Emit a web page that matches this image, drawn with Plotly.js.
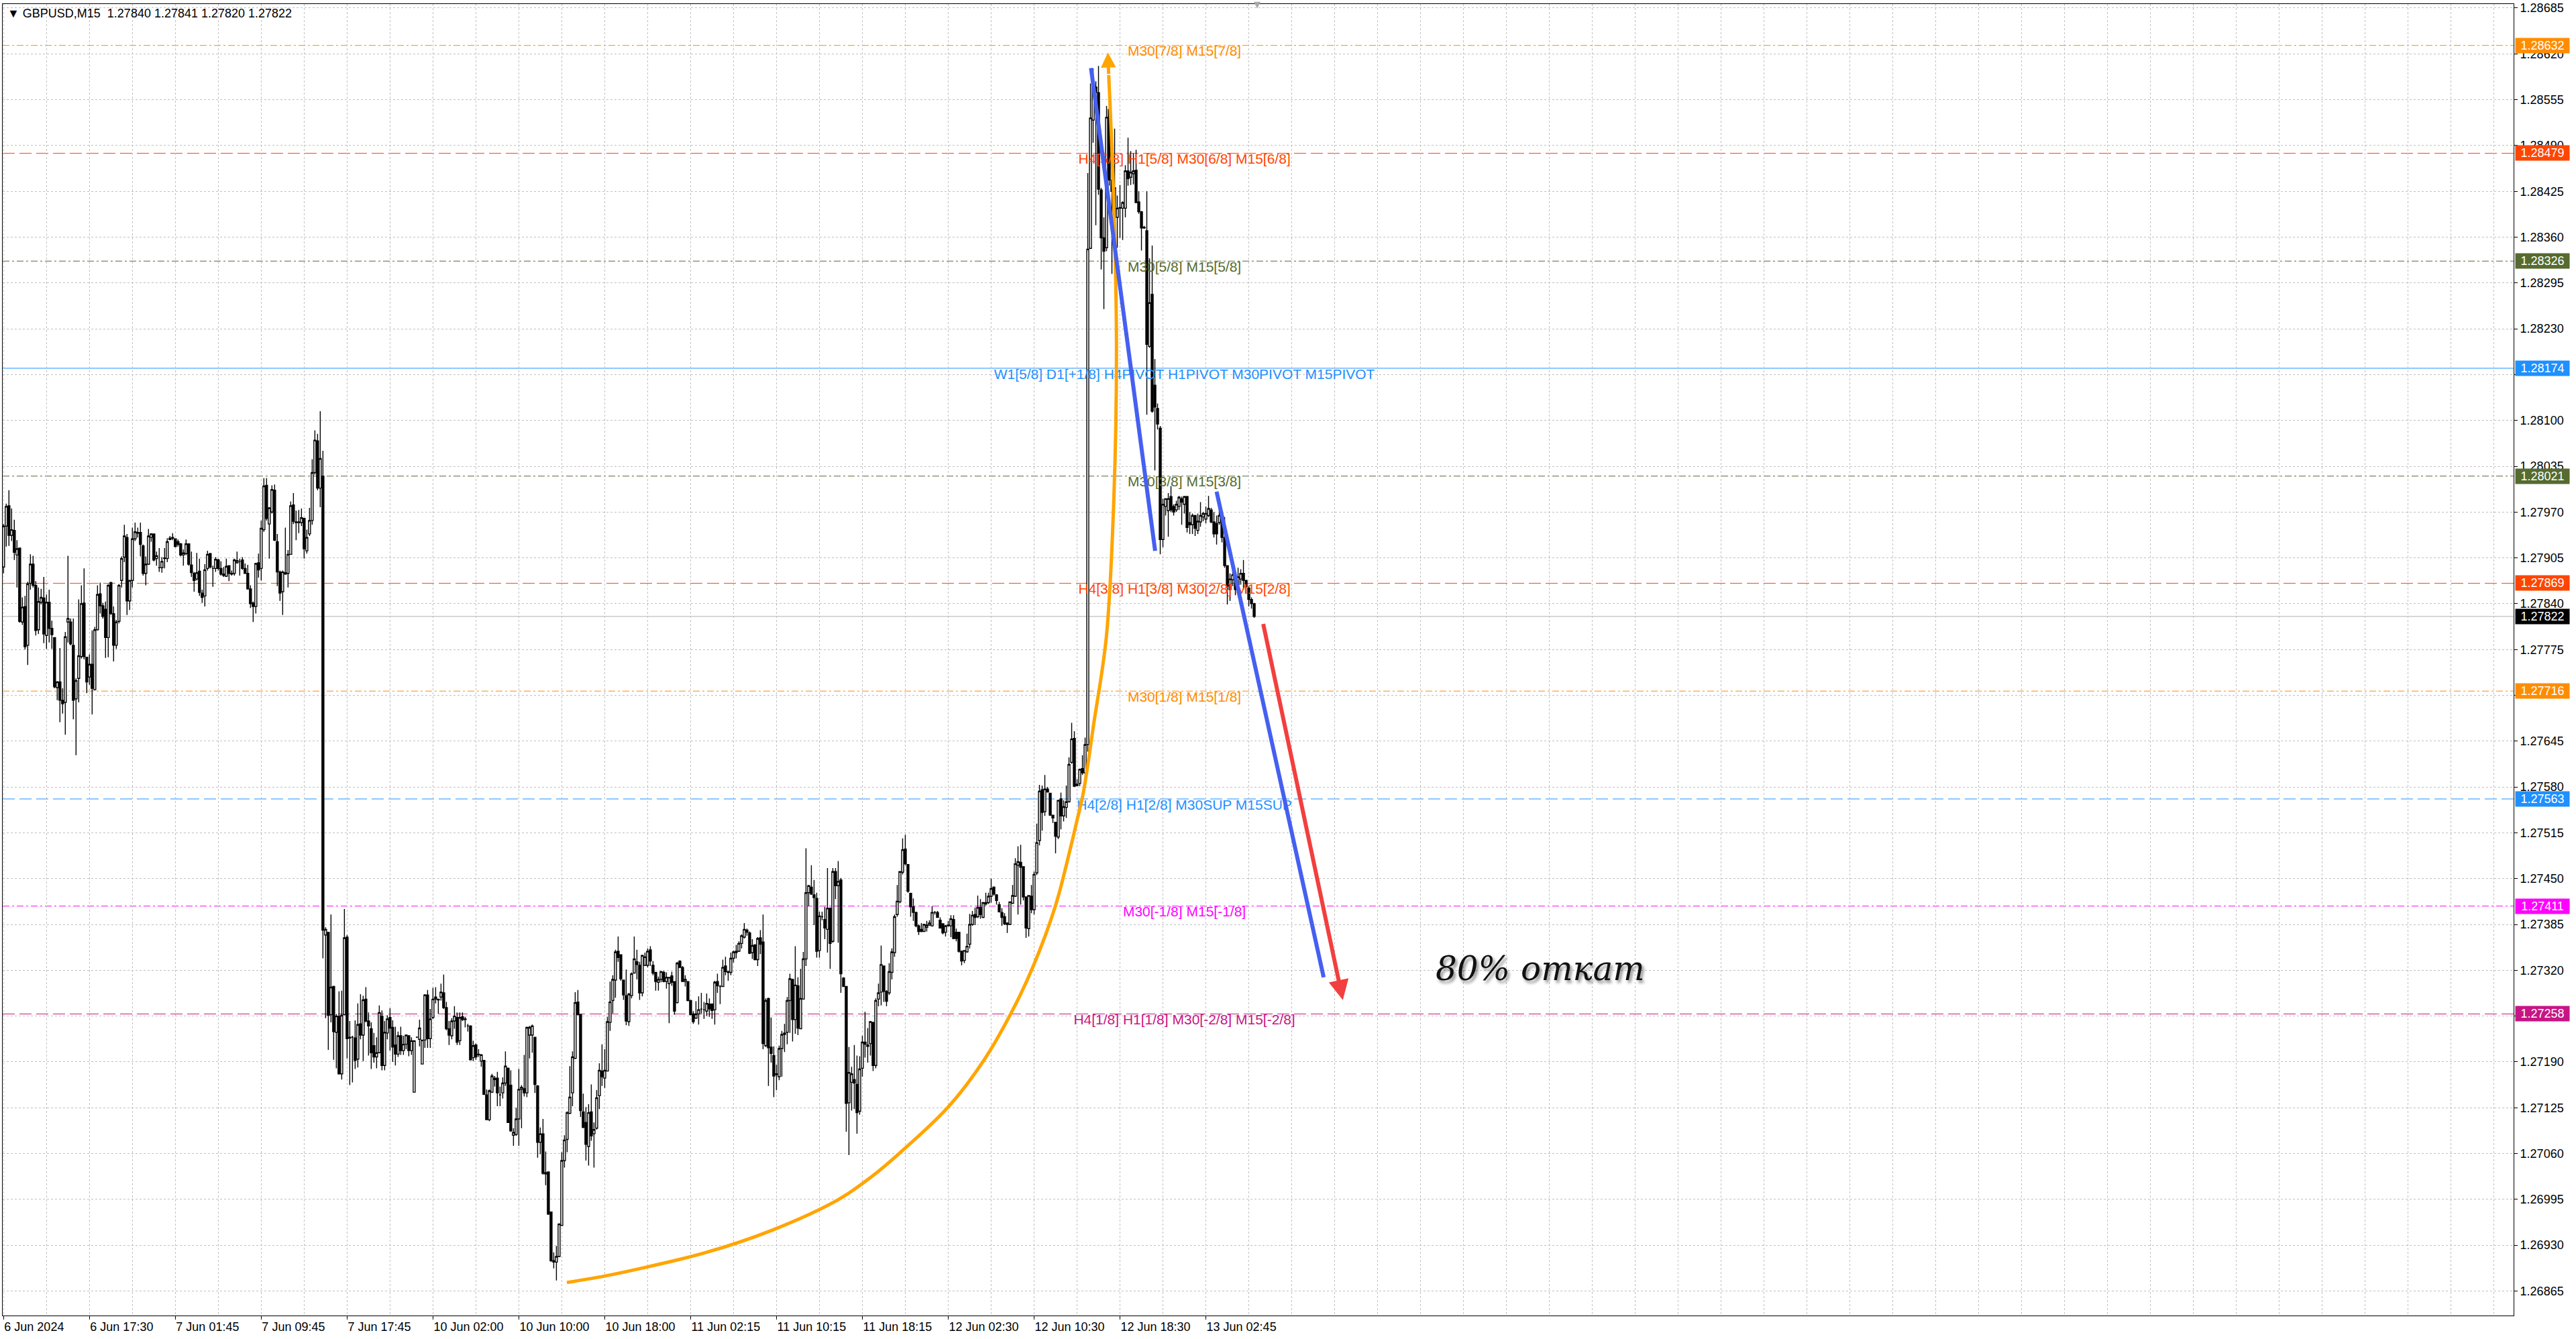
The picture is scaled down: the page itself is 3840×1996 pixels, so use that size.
<!DOCTYPE html>
<html>
<head>
<meta charset="utf-8">
<script src="https://cdn.plot.ly/plotly-3.0.1.min.js"></script>
<style>
  html, body { margin: 0; padding: 0; background: #fff; }
  #chart { width: 3840px; height: 1996px; }
</style>
</head>
<body>
<div id="chart"></div>
<script>
// GBPUSD M15, prices in points (x 1e-5), one entry per bar
const open = [
127892,127950,127979,127937,127944,127909,127919,127814,127836,127781,
127869,127896,127866,127803,127842,127848,127795,127842,127805,127792,
127721,127729,127703,127700,127814,127814,127781,127705,127734,127765,
127841,127764,127736,127754,127718,127803,127854,127837,127832,127792,
127870,127826,127781,127815,127873,127906,127934,127844,127873,127932,
127940,127941,127922,127883,127896,127934,127939,127904,127891,127891,
127904,127904,127931,127934,127932,127928,127925,127909,127911,127925,
127895,127883,127875,127886,127855,127851,127890,127911,127890,127890,
127902,127890,127882,127879,127894,127883,127883,127898,127900,127902,
127890,127883,127861,127841,127836,127898,127890,127945,128008,127953,
127970,128001,127928,127885,127857,127884,127883,127910,127980,127956,
127955,127955,127961,127915,127939,127958,128026,128071,128004,128021,
127370,127374,127257,127297,127232,127255,127173,127257,127367,127225,
127225,127224,127194,127244,127228,127279,127248,127237,127213,127197,
127203,127255,127185,127231,127253,127239,127214,127201,127227,127206,
127215,127227,127206,127147,127225,127222,127187,127221,127285,127223,
127253,127282,127279,127282,127288,127267,127237,127227,127248,127253,
127220,127254,127251,127241,127241,127196,127214,127201,127191,127192,
127143,127108,127147,127165,127167,127143,127146,127160,127181,127157,
127086,127087,127109,127151,127152,127146,127228,127228,127225,127156,
127076,127088,127033,127034,126977,126908,126906,126914,126958,127050,
127080,127117,127146,127195,127275,127257,127119,127104,127070,127119,
127088,127096,127142,127177,127167,127177,127246,127277,127306,127347,
127342,127306,127284,127247,127284,127316,127332,127327,127288,127327,
127327,127349,127327,127317,127303,127307,127317,127304,127301,127312,
127304,127274,127333,127324,127304,127304,127277,127258,127252,127258,
127265,127264,127262,127272,127272,127264,127304,127297,127297,127326,
127318,127317,127337,127345,127347,127358,127367,127377,127373,127345,
127356,127335,127366,127360,127213,127280,127211,127199,127172,127169,
127209,127229,127232,127277,127307,127250,127298,127237,127279,127336,
127430,127438,127427,127422,127348,127396,127392,127378,127408,127361,
127460,127440,127448,127309,127297,127132,127161,127165,127158,127120,
127181,127218,127214,127216,127246,127185,127279,127289,127326,127290,
127288,127317,127345,127399,127417,127459,127492,127470,127429,127410,
127402,127383,127378,127375,127381,127384,127383,127402,127402,127391,
127386,127374,127383,127383,127392,127374,127374,127347,127334,127346,
127357,127385,127399,127396,127409,127395,127414,127416,127425,127438,
127427,127413,127402,127396,127387,127385,127415,127425,127469,127473,
127467,127424,127379,127425,127406,127458,127504,127576,127545,127577,
127571,127540,127530,127509,127563,127539,127551,127559,127615,127649,
127582,127585,127606,127600,127640,128344,128526,128573,128565,128427,
128359,128345,128541,128441,128388,128388,128401,128401,128401,128454,
128445,128450,128455,128410,128396,128373,128369,128205,128279,128150,
128117,128089,127931,127978,127972,127992,127978,127973,127978,127989,
127981,127992,127955,127952,127965,127944,127956,127963,127960,127965,
127973,127956,127954,127955,127965,127934,127894,127860,127874,127875,
127867,127875,127883,127873,127862,127846,127840
];
const high = [
127953,127982,128001,127975,127959,127930,127919,127849,127851,127871,
127910,127908,127872,127863,127861,127878,127853,127860,127816,127792,
127730,127777,127720,127800,127908,127819,127819,127734,127846,127866,
127890,127764,127768,127802,127807,127866,127870,127841,127843,127868,
127871,127836,127817,127868,127907,127952,127939,127873,127948,127955,
127948,127955,127924,127907,127946,127940,127939,127914,127919,127906,
127919,127933,127936,127940,127932,127931,127926,127917,127931,127925,
127914,127885,127912,127904,127860,127896,127915,127912,127894,127906,
127904,127900,127892,127904,127894,127887,127904,127914,127904,127906,
127897,127895,127866,127843,127898,127911,127958,128018,128018,127977,
128008,128009,127939,127887,127887,127948,127916,127985,127997,127972,
127973,127975,127962,127945,127976,128045,128086,128081,128113,128057,
127381,127374,127399,127298,127258,127290,127291,127407,127370,127248,
127227,127249,127273,127286,127284,127296,127260,127246,127231,127225,
127270,127263,127248,127256,127266,127249,127240,127233,127240,127227,
127229,127228,127225,127220,127226,127250,127221,127286,127292,127265,
127295,127296,127279,127301,127314,127275,127248,127252,127269,127260,
127260,127260,127254,127244,127242,127220,127216,127208,127201,127192,
127151,127151,127173,127170,127176,127155,127168,127205,127182,127178,
127096,127125,127180,127157,127200,127240,127241,127243,127225,127157,
127097,127109,127063,127034,126977,126920,126929,126961,127062,127086,
127120,127184,127205,127289,127292,127258,127145,127126,127130,127158,
127104,127150,127188,127215,127208,127254,127304,127313,127349,127368,
127342,127306,127321,127288,127317,127368,127349,127332,127342,127345,
127351,127354,127333,127317,127311,127319,127319,127317,127310,127318,
127304,127332,127334,127326,127313,127304,127278,127262,127276,127283,
127288,127275,127287,127280,127273,127305,127315,127299,127335,127339,
127319,127345,127348,127356,127361,127371,127387,127379,127375,127364,
127357,127367,127377,127399,127280,127281,127253,127212,127186,127213,
127234,127244,127282,127315,127308,127354,127310,127322,127346,127493,
127441,127469,127448,127430,127403,127403,127410,127465,127409,127465,
127465,127475,127451,127310,127297,127211,127183,127214,127199,127198,
127227,127261,127238,127248,127247,127280,127301,127355,127326,127292,
127330,127351,127399,127441,127460,127507,127512,127470,127430,127422,
127403,127385,127387,127386,127390,127391,127411,127404,127404,127395,
127386,127384,127390,127398,127398,127379,127374,127348,127348,127372,
127400,127404,127409,127426,127421,127417,127430,127430,127450,127439,
127428,127417,127408,127401,127388,127417,127441,127479,127496,127498,
127467,127424,127426,127441,127460,127528,127583,127582,127597,127580,
127571,127540,127530,127562,127572,127561,127582,127622,127671,127659,
127591,127606,127625,127650,128451,128578,128599,128581,128603,128430,
128388,128546,128543,128451,128514,128419,128434,128411,128462,128501,
128482,128479,128484,128425,128397,128376,128425,128330,128348,128187,
128124,128092,127989,127989,127997,128007,127981,127986,127993,127992,
127993,127993,127970,127968,127966,127968,127984,127970,127978,127993,
127976,127970,127965,127984,127968,127963,127894,127883,127887,127882,
127891,127889,127902,127874,127865,127849,127841
];
const low = [
127883,127921,127922,127929,127902,127863,127813,127810,127775,127753,
127860,127863,127795,127797,127839,127784,127776,127785,127776,127720,
127703,127672,127684,127654,127785,127781,127676,127625,127700,127762,
127761,127713,127725,127683,127717,127802,127826,127819,127763,127764,
127824,127758,127776,127812,127863,127899,127824,127831,127863,127929,
127934,127907,127880,127866,127895,127928,127900,127894,127885,127884,
127890,127899,127930,127930,127920,127921,127907,127894,127909,127894,
127878,127857,127873,127851,127841,127836,127887,127890,127864,127885,
127887,127880,127878,127878,127872,127880,127880,127897,127880,127888,
127883,127860,127834,127814,127826,127877,127873,127942,127958,127904,
127968,127929,127865,127844,127824,127881,127863,127910,127953,127930,
127940,127950,127904,127911,127936,127952,128023,128001,127977,127337,
127252,127207,127246,127193,127181,127172,127165,127256,127195,127157,
127161,127180,127182,127222,127191,127246,127199,127180,127189,127181,
127202,127178,127178,127222,127206,127190,127185,127197,127200,127200,
127208,127198,127200,127147,127224,127212,127187,127210,127210,127210,
127251,127273,127258,127277,127265,127235,127214,127222,127237,127214,
127214,127248,127239,127233,127192,127191,127193,127197,127183,127143,
127108,127106,127146,127155,127127,127127,127138,127156,127104,127091,
127071,127085,127071,127096,127141,127140,127195,127203,127146,127054,
127059,127030,127015,126973,126906,126897,126880,126913,126958,127040,
127062,127116,127127,127194,127256,127112,127096,127050,127043,127078,
127040,127094,127123,127156,127153,127177,127234,127259,127281,127332,
127305,127278,127242,127241,127280,127316,127307,127278,127283,127326,
127324,127326,127313,127291,127291,127303,127303,127294,127245,127298,
127257,127273,127323,127304,127297,127276,127257,127244,127251,127243,
127259,127251,127255,127254,127251,127243,127288,127272,127297,127313,
127305,127313,127331,127337,127346,127351,127365,127369,127343,127336,
127334,127326,127343,127208,127211,127156,127189,127140,127150,127164,
127169,127204,127215,127231,127219,127230,127228,127237,127279,127326,
127411,127427,127384,127338,127338,127391,127364,127345,127322,127359,
127421,127359,127288,127297,127091,127058,127121,127123,127088,127115,
127169,127196,127189,127199,127177,127181,127269,127270,127275,127269,
127285,127307,127339,127396,127415,127456,127469,127430,127396,127390,
127381,127370,127374,127375,127375,127383,127382,127399,127395,127379,
127371,127368,127382,127367,127364,127361,127345,127327,127330,127345,
127351,127383,127384,127394,127393,127394,127412,127414,127416,127426,
127413,127402,127383,127384,127373,127384,127414,127424,127399,127413,
127419,127366,127368,127401,127399,127455,127497,127518,127539,127572,
127539,127529,127486,127506,127520,127531,127536,127558,127613,127580,
127581,127581,127597,127590,127630,128343,128494,128377,128420,128314,
128258,128340,128433,128308,128345,128345,128359,128356,128388,128433,
128434,128435,128409,128393,128341,128372,128108,128203,128111,128029,
128087,127910,127920,127965,127935,127970,127965,127970,127973,127952,
127968,127941,127939,127939,127936,127939,127949,127957,127954,127963,
127954,127934,127924,127952,127927,127891,127839,127844,127865,127852,
127860,127867,127860,127854,127836,127833,127820
];
const close = [
127950,127978,127937,127945,127913,127918,127815,127835,127779,127868,
127896,127866,127802,127843,127849,127797,127842,127805,127796,127722,
127729,127703,127698,127793,127819,127783,127703,127731,127766,127840,
127765,127729,127754,127720,127803,127853,127837,127822,127792,127866,
127826,127781,127814,127866,127904,127936,127844,127873,127932,127942,
127941,127924,127883,127896,127936,127939,127902,127908,127891,127900,
127905,127928,127933,127933,127921,127924,127909,127912,127925,127896,
127884,127873,127884,127856,127849,127888,127910,127892,127890,127903,
127890,127882,127880,127893,127883,127882,127902,127901,127900,127890,
127883,127861,127840,127836,127897,127888,127947,128007,127961,127976,
128002,127930,127885,127855,127885,127882,127910,127979,127957,127955,
127956,127962,127918,127934,127958,128026,128072,128004,128046,127377,
127378,127256,127296,127233,127255,127173,127256,127366,127223,127224,
127225,127192,127243,127228,127278,127248,127241,127203,127197,127203,
127260,127185,127232,127251,127238,127211,127201,127227,127206,127215,
127228,127206,127220,127220,127225,127238,127221,127285,127223,127251,
127279,127279,127278,127289,127267,127237,127228,127248,127255,127218,
127253,127250,127250,127241,127193,127213,127197,127200,127200,127144,
127108,127149,127170,127167,127146,127143,127160,127184,127104,127092,
127090,127109,127151,127154,127146,127239,127239,127241,127158,127076,
127088,127032,127031,126974,126908,126906,126914,126960,127050,127079,
127118,127140,127197,127274,127257,127121,127097,127073,127118,127085,
127094,127139,127178,127169,127178,127247,127275,127307,127346,127338,
127308,127285,127248,127286,127315,127336,127328,127288,127341,127339,
127347,127333,127316,127304,127307,127318,127304,127310,127310,127303,
127262,127330,127324,127304,127307,127277,127257,127247,127258,127264,
127265,127264,127273,127265,127263,127303,127298,127297,127324,127318,
127317,127337,127346,127347,127358,127369,127378,127374,127344,127355,
127335,127365,127357,127216,127277,127210,127202,127170,127173,127209,
127229,127231,127277,127308,127250,127299,127238,127280,127336,127430,
127440,127428,127423,127347,127397,127396,127380,127408,127358,127460,
127440,127446,127315,127297,127131,127175,127173,127160,127118,127180,
127218,127215,127212,127247,127185,127277,127288,127328,127290,127276,
127318,127346,127396,127418,127460,127491,127471,127432,127410,127402,
127383,127375,127375,127385,127384,127387,127402,127402,127395,127380,
127373,127383,127384,127393,127365,127365,127347,127333,127348,127354,
127385,127398,127395,127409,127399,127416,127416,127425,127436,127428,
127419,127403,127395,127386,127385,127417,127426,127471,127474,127466,
127424,127380,127426,127406,127456,127501,127574,127544,127577,127573,
127540,127536,127510,127561,127539,127552,127559,127612,127648,127581,
127584,127605,127600,127640,128343,128529,128573,128565,128428,128359,
128340,128530,128441,128425,128430,128401,128402,128409,128454,128443,
128452,128454,128409,128396,128373,128374,128208,128267,128113,128119,
128095,127931,127981,127989,127989,127973,127970,127981,127991,127984,
127992,127948,127952,127965,127947,127957,127965,127968,127968,127975,
127956,127939,127939,127965,127934,127894,127865,127875,127881,127860,
127878,127883,127873,127864,127846,127840,127822
];

const timeLabels = ['6 Jun 2024', '6 Jun 17:30', '7 Jun 01:45', '7 Jun 09:45', '7 Jun 17:45',
  '10 Jun 02:00', '10 Jun 10:00', '10 Jun 18:00', '11 Jun 02:15', '11 Jun 10:15',
  '11 Jun 18:15', '12 Jun 02:30', '12 Jun 10:30', '12 Jun 18:30', '13 Jun 02:45'];
const priceTicks = [1.26865, 1.26930, 1.26995, 1.27060, 1.27125, 1.27190, 1.27255, 1.27320,
  1.27385, 1.27450, 1.27515, 1.27580, 1.27645, 1.27710, 1.27775, 1.27840, 1.27905, 1.27970,
  1.28035, 1.28100, 1.28165, 1.28230, 1.28295, 1.28360, 1.28425, 1.28490, 1.28555, 1.28620, 1.28685];

// Murrey levels drawn by the indicator
const levelPrice = [1.28632, 1.28479, 1.28326, 1.28174, 1.28021, 1.27869, 1.27716, 1.27563, 1.27411, 1.27258];
const levelText = ['M30[7/8] M15[7/8]', 'H4[5/8] H1[5/8] M30[6/8] M15[6/8]', 'M30[5/8] M15[5/8]',
  'W1[5/8] D1[+1/8] H4PIVOT H1PIVOT M30PIVOT M15PIVOT', 'M30[3/8] M15[3/8]',
  'H4[3/8] H1[3/8] M30[2/8] M15[2/8]', 'M30[1/8] M15[1/8]', 'H4[2/8] H1[2/8] M30SUP M15SUP',
  'M30[-1/8] M15[-1/8]', 'H4[1/8] H1[1/8] M30[-2/8] M15[-2/8]'];
const levelColor = ['#FF8C00', '#FF4500', '#556B2F', '#1E90FF', '#556B2F', '#FF4500', '#FF8C00', '#1E90FF', '#FF00FF', '#C71585'];
const levelStyle = ['dashdot', 'dash', 'dashdot', 'solid', 'dashdot', 'dash', 'dashdot', 'dash', 'dashdot', 'dash'];
const levelLabelBar = 440;

// hand drawn objects (bar index, price)
const curveBar = [209.9, 223.7, 236.2, 261.2, 286.2, 311.2, 323.7, 333.7, 352.0, 365.4, 375.4,
  383.7, 392.0, 397.4, 399.9, 402.4, 406.2, 410.9, 413.7, 414.7, 413.7, 411.8];
const curvePrice = [1.26877, 1.26886, 1.26896, 1.26919, 1.26951, 1.26995, 1.27028, 1.27060, 1.27126,
  1.27193, 1.27259, 1.27326, 1.27412, 1.27491, 1.27531, 1.27573, 1.27669, 1.27792, 1.27987,
  1.28198, 1.28409, 1.28590];
const curveTip = [411.5, 1.28622];
const blueBar = [405.2, 429.1, null, 452.0, 491.9];
const bluePrice = [1.28600, 1.27915, null, 1.27999, 1.27310];
const redBar = [469.3, 499.05];
const redPrice = [1.278127, 1.272778];
const noteText = '80% откат';
const noteAt = [572.7, 1.27322];

const pts = v => v / 1e5;
const bars = open.map((_, i) => i);
const O = open.map(pts), C = close.map(pts);
const H = high.map((v, i) => Math.max(pts(v), O[i], C[i]));
const L = low.map((v, i) => Math.min(pts(v), O[i], C[i]));
const last = open.length - 1;
const bid = C[last];

const dashMap = { solid: 'solid', dash: '18px,7px', dashdot: '10px,4px,3px,4px' };
const axisFont = { family: 'Liberation Sans, Arial, sans-serif', size: 18, color: '#000' };
const gridStyle = { gridcolor: '#C0C0C0', gridwidth: 1, griddash: '3px,3px' };

// price scale labels sitting under a level box are not drawn by the terminal
const boxValues = levelPrice.concat([bid]);
const priceTickText = priceTicks.map(v =>
  boxValues.some(b => Math.abs(b - v) < 0.0001) ? '' : v.toFixed(5));

const traces = [
  {
    type: 'candlestick', x: bars, open: O, high: H, low: L, close: C,
    increasing: { line: { color: '#000', width: 1.4 }, fillcolor: '#FFFFFF' },
    decreasing: { line: { color: '#000', width: 1.4 }, fillcolor: '#000000' },
    whiskerwidth: 0, hoverinfo: 'skip'
  },
  {
    type: 'scatter', mode: 'text', x: levelPrice.map(() => levelLabelBar), y: levelPrice,
    text: levelText, textposition: 'bottom center',
    textfont: { family: 'Liberation Sans, Arial, sans-serif', size: 21, color: levelColor },
    hoverinfo: 'skip'
  },
  {
    type: 'scatter', mode: 'lines', x: curveBar, y: curvePrice,
    line: { color: '#FFA500', width: 5, shape: 'spline', smoothing: 1 }, hoverinfo: 'skip'
  },
  {
    type: 'scatter', mode: 'lines', x: blueBar, y: bluePrice, connectgaps: false,
    line: { color: '#4560F0', width: 6 }, hoverinfo: 'skip'
  }
];

const shapes = levelPrice.map((p, i) => ({
  type: 'line', xref: 'paper', x0: 0, x1: 1, yref: 'y', y0: p, y1: p, layer: 'between',
  line: { color: levelColor[i], width: 1, dash: dashMap[levelStyle[i]] }
}));
shapes.push({
  type: 'line', xref: 'paper', x0: 0, x1: 1, yref: 'y', y0: bid, y1: bid, layer: 'between',
  line: { color: '#C0C0C0', width: 1.2 }
});

const boxLabel = (p, color) => ({
  xref: 'paper', x: 1, xanchor: 'left', xshift: 2, yref: 'y', y: p, yanchor: 'middle',
  text: p.toFixed(5), showarrow: false, bgcolor: color, borderpad: 1,
  width: 78, height: 20, align: 'center',
  font: { family: 'Liberation Sans, Arial, sans-serif', size: 18, color: '#FFFFFF' }
});

const annotations = levelPrice.map((p, i) => boxLabel(p, levelColor[i]));
annotations.push(boxLabel(bid, '#000000'));
annotations.push({
  xref: 'paper', x: 0, xanchor: 'left', xshift: 5, yref: 'paper', y: 1, yanchor: 'top', yshift: -2,
  text: '\u25BC GBPUSD,M15\u00a0\u00a0' + [O[last], H[last], L[last], C[last]].map(v => v.toFixed(5)).join(' '),
  showarrow: false, font: axisFont
});
annotations.push({
  xref: 'x', yref: 'y', x: redBar[1], y: redPrice[1], axref: 'x', ayref: 'y', ax: redBar[0], ay: redPrice[0],
  text: '', showarrow: true, arrowhead: 2, arrowsize: 1, arrowwidth: 6, arrowcolor: '#F23F3F', standoff: 0
});
annotations.push({
  xref: 'x', yref: 'y', x: curveTip[0], y: curveTip[1], axref: 'x', ayref: 'y',
  ax: curveBar[curveBar.length - 1], ay: curvePrice[curvePrice.length - 1],
  text: '', showarrow: true, arrowhead: 2, arrowsize: 0.9, arrowwidth: 5, arrowcolor: '#FFA500', standoff: 0
});
annotations.push({
  xref: 'x', yref: 'y', x: noteAt[0], y: noteAt[1], xanchor: 'center', yanchor: 'middle',
  text: noteText, showarrow: false,
  font: { family: 'DejaVu Serif, serif', size: 50, style: 'italic', color: '#111111',
          shadow: '3px 4px 4px rgba(0,0,0,0.45)' }
});
annotations.push({
  xref: 'x', x: last + 1, yref: 'paper', y: 1, yanchor: 'middle', text: '\u25BC',
  showarrow: false, font: { family: 'DejaVu Sans, sans-serif', size: 13, color: '#A8A8A8' }
});

const layout = {
  width: 3840, height: 1996,
  margin: { l: 4, r: 93, t: 6, b: 35, pad: 0 },
  paper_bgcolor: '#FFFFFF', plot_bgcolor: '#FFFFFF',
  showlegend: false, hovermode: false, dragmode: false,
  boxgap: 0.25, boxgroupgap: 0,
  xaxis: Object.assign({
    type: 'linear', range: [-0.33, 935.3],
    tickmode: 'array', tickvals: timeLabels.map((_, i) => i * 32), ticktext: timeLabels,
    ticks: 'outside', ticklen: 5, tickcolor: '#000', ticklabelposition: 'outside right',
    tickfont: axisFont, showgrid: true,
    minor: Object.assign({ tickmode: 'linear', tick0: 0, dtick: 16, showgrid: true, ticks: '' }, gridStyle),
    showline: true, linecolor: '#000', linewidth: 1, mirror: true, zeroline: false,
    rangeslider: { visible: false }, fixedrange: true
  }, gridStyle),
  yaxis: Object.assign({
    side: 'right', range: [1.268302, 1.286907],
    tickmode: 'array', tickvals: priceTicks, ticktext: priceTickText,
    ticks: 'outside', ticklen: 5, tickcolor: '#000', tickfont: axisFont, showgrid: true,
    showline: true, linecolor: '#000', linewidth: 1, mirror: true, zeroline: false, fixedrange: true
  }, gridStyle),
  shapes: shapes,
  annotations: annotations
};

Plotly.newPlot('chart', traces, layout, { displayModeBar: false, staticPlot: true });
</script>
</body>
</html>
